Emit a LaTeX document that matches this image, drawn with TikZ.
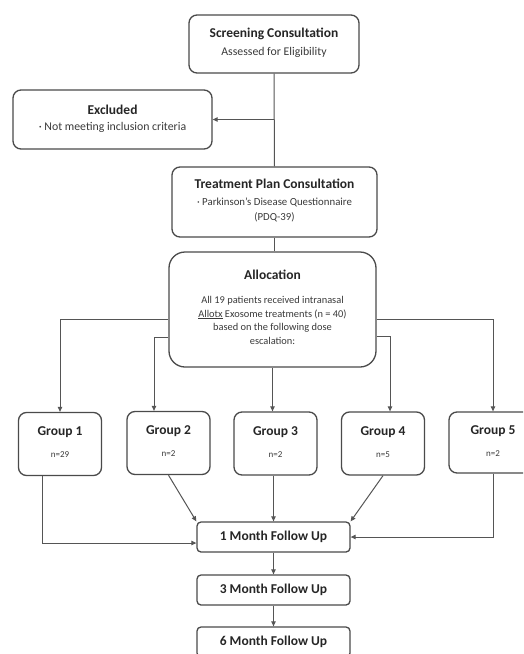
\documentclass[tikz,border=0pt]{standalone}
\usepackage{fontspec}
\setmainfont{Carlito}
\usetikzlibrary{arrows.meta}
\definecolor{boxline}{HTML}{4A4A4A}
\definecolor{conn}{HTML}{555555}
\definecolor{titletext}{HTML}{262626}
\definecolor{bodytext}{HTML}{3A3A3A}
\newcommand{\ttl}[1]{{\fontsize{13.5}{16}\selectfont\bfseries\color{titletext}#1}}
\newcommand{\bdy}[3]{{\fontsize{#1}{#2}\selectfont\color{bodytext}\begin{tabular}{@{}c@{}}#3\end{tabular}}}
\tikzset{
  box/.style={draw=boxline, line width=1.3pt, fill=white, rounded corners=8pt, align=center, inner sep=0pt, anchor=center},
  fubox/.style={box, rounded corners=4pt, minimum width=153pt, minimum height=30pt},
  grp/.style={box, minimum width=83pt, minimum height=63pt},
  conline/.style={draw=conn, line width=1pt},
  arr/.style={conline, -{Triangle[length=5pt,width=4.5pt]}},
}
\begin{document}
\begin{tikzpicture}[x=1pt,y=-1pt]
\clip (0,0) rectangle (523,654);
\fill[white] (0,0) rectangle (523,654);

\node[box, minimum width=170pt, minimum height=58pt] (scr) at (274,44)
  {\ttl{Screening Consultation}\\[5pt]\bdy{11.8}{14}{Assessed for Eligibility}};
\node[box, minimum width=199pt, minimum height=59pt] (exc) at (112.5,119.5)
  {\ttl{Excluded}\\[4pt]\bdy{11.8}{14}{· Not meeting inclusion criteria}};
\node[box, minimum width=205pt, minimum height=70pt] (tpc) at (274.5,202)
  {\ttl{Treatment Plan Consultation}\\[5pt]\bdy{10.8}{15}{· Parkinson’s Disease Questionnaire\\(PDQ-39)}};
\node[box, rounded corners=16pt, minimum width=207pt, minimum height=115pt] (alloc) at (272.5,309.5)
  {\ttl{Allocation}\\[13pt]\bdy{10.4}{13.7}{All 19 patients received intranasal\\\underline{Allotx} Exosome treatments (n = 40)\\based on the following dose\\escalation:}};

\node[grp] (g1) at (60,444) {\ttl{Group 1}\\[10pt]\bdy{9}{11}{n=29}};
\node[grp] (g2) at (168.5,443) {\ttl{Group 2}\\[10pt]\bdy{9}{11}{n=2}};
\node[grp] (g3) at (275.5,443.5) {\ttl{Group 3}\\[10pt]\bdy{9}{11}{n=2}};
\node[grp] (g4) at (383,443.5) {\ttl{Group 4}\\[10pt]\bdy{9}{11}{n=5}};
\node[grp, minimum width=88pt, minimum height=61pt] (g5) at (493,442.5) {\ttl{Group 5}\\[10pt]\bdy{9}{11}{n=2}};

\node[fubox] (m1) at (273.5,537) {\ttl{1 Month Follow Up}};
\node[fubox] (m3) at (273.5,590) {\ttl{3 Month Follow Up}};
\node[fubox] (m6) at (273.5,642) {\ttl{6 Month Follow Up}};

% top chain
\draw[conline] (scr.south) -- (tpc.north);
\coordinate (br) at (scr.south |- exc.east);
\draw[arr] (br) -- (exc.east);
\draw[conline] (tpc.south) -- (tpc.south |- alloc.north);

% allocation to groups
\draw[arr] ([yshift=-9.5pt]alloc.west) -| (g1.north);
\draw[arr] ([yshift=-27.5pt]alloc.west) -| ([xshift=-14.5pt]g2.north);
\draw[arr] (alloc.south) -- (alloc.south |- g3.north);
\draw[arr] ([yshift=-26.5pt]alloc.east) -| ([xshift=7pt]g4.north);
\draw[arr] ([yshift=-9.5pt]alloc.east) -| (g5.north);

% groups to follow up
\draw[arr] ([xshift=-18pt]g1.south) |- ([yshift=-6pt]m1.west);
\draw[arr] (g2.south) -- (m1.north west);
\draw[arr] (m1.north |- g3.south) -- (m1.north);
\draw[arr] (g4.south) -- (m1.north east);
\draw[arr] (g5.south) |- (m1.east);

\draw[arr] (m1.south) -- (m3.north);
\draw[arr] (m3.south) -- (m6.north);
\end{tikzpicture}
\end{document}
